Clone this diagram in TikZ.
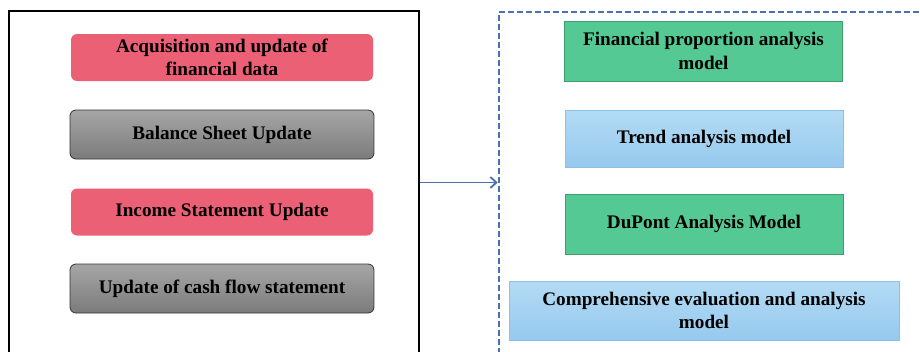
\documentclass[tikz,border=0pt]{standalone}
\usepackage{fontspec}
\setmainfont{Liberation Serif}
\usetikzlibrary{arrows.meta}
\definecolor{pinkfill}{HTML}{EC6076}
\definecolor{graytop}{HTML}{A6A6A6}
\definecolor{graybot}{HTML}{7B7B7B}
\definecolor{greenfill}{HTML}{55C993}
\definecolor{greenline}{HTML}{3E9E6E}
\definecolor{bluetop}{HTML}{B3DBF4}
\definecolor{bluebot}{HTML}{96C9EE}
\definecolor{blueline}{HTML}{8CC0E6}
\definecolor{panelblue}{HTML}{4A70AE}
\begin{document}
\begin{tikzpicture}[x=1pt,y=-1pt,font=\fontsize{19.2}{23.5}\selectfont\bfseries,
    stepred/.style={fill=pinkfill,rounded corners=6pt,minimum width=302pt,minimum height=47pt,align=center,inner sep=0pt},
    stepgray/.style={draw=black!80,line width=0.8pt,top color=graytop,bottom color=graybot,rounded corners=6pt,minimum width=304pt,minimum height=49pt,align=center,inner sep=0pt},
    modelgreen/.style={fill=greenfill,draw=greenline,line width=0.6pt,minimum width=278pt,minimum height=60pt,align=center,inner sep=0pt},
    modelblue/.style={top color=bluetop,bottom color=bluebot,draw=blueline,line width=0.6pt,minimum width=278pt,minimum height=57pt,align=center,inner sep=0pt}]
    \clip (0,0) rectangle (920,351);
    \fill[white] (0,0) rectangle (920,351);

    % left panel
    \node[draw=black,line width=1.8pt,minimum width=410pt,minimum height=343pt,inner sep=0pt] (update) at (214,182.5) {};
    \node[stepred] (acq) at (222,57.5) {Acquisition and update of\\financial data};
    \node[stepgray] (balance) at (222,134.5) {Balance Sheet Update};
    \node[stepred] (income) at (222,212) {Income Statement Update};
    \node[stepgray] (cash) at (222,288.5) {Update of cash flow statement};

    % right panel
    \node[draw=panelblue,line width=2.6pt,dash pattern=on 6pt off 3pt,minimum width=440pt,minimum height=341pt,inner sep=0pt] (analysis) at (719,182.5) {};
    \node[modelgreen] (ratio) at (703.5,51) {Financial proportion analysis\\model};
    \node[modelblue] (trend) at (704,138.5) {Trend analysis model};
    \node[modelgreen] (dupont) at (704,224) {DuPont Analysis Model};
    \node[modelblue,minimum width=390pt,minimum height=59pt] (overall) at (704,310.5) {Comprehensive evaluation and analysis\\model};

    \draw[panelblue,line width=1.8pt,-{Straight Barb[length=6pt,width=11pt]}] (update.east) -- (analysis.west);
\end{tikzpicture}
\end{document}
